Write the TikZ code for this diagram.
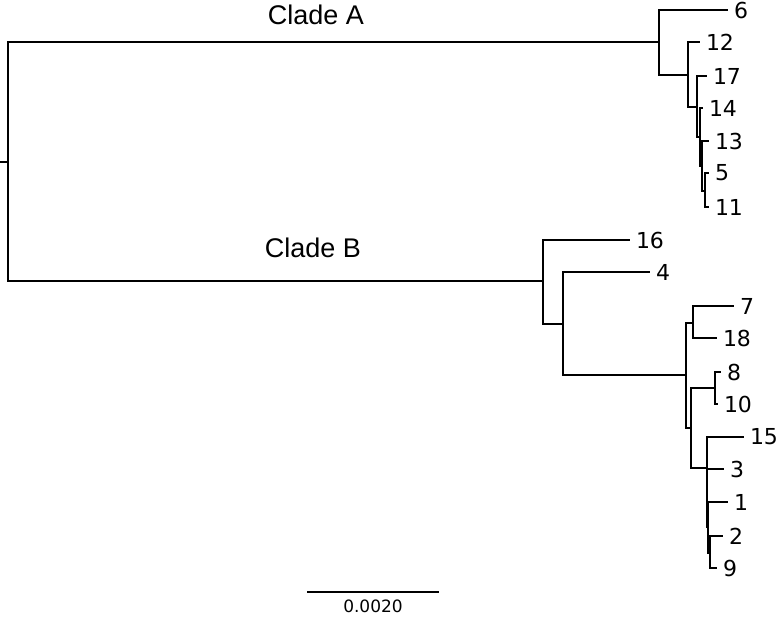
\documentclass[tikz,border=0pt]{standalone}
\usepackage{fontspec}
\setmainfont{DejaVu Sans}
\newfontfamily\cladefont{Liberation Sans}
\begin{document}
\begin{tikzpicture}[x=1pt,y=-1pt,line width=2pt]
        \useasboundingbox (0,0) rectangle (777,617);

        % inner nodes of the tree
        \coordinate (stem) at (0,162);
        \coordinate (root) at (8,162);
        \coordinate (a)  at (659,42);
        \coordinate (a1) at (688,75);
        \coordinate (a2) at (697,107);
        \coordinate (a3) at (700,137);
        \coordinate (a4) at (702,166);
        \coordinate (a5) at (705,191);
        \coordinate (b)  at (543,281);
        \coordinate (b1) at (563,324);
        \coordinate (c)  at (686,375);
        \coordinate (c1) at (693,323);
        \coordinate (d)  at (691,428);
        \coordinate (d1) at (715,388);
        \coordinate (e)  at (707,468);
        \coordinate (f)  at (708,527);
        \coordinate (g)  at (710,553);

        \begin{scope}[every node/.style={anchor=west, inner xsep=5pt, inner ysep=0pt, font=\fontsize{22}{22}\selectfont}]
          \node (6)  at (728,10)  {6};
          \node (12) at (700,42)  {12};
          \node (17) at (707,76)  {17};
          \node (14) at (703,108) {14};
          \node (13) at (709,141) {13};
          \node (5)  at (709,173) {5};
          \node (11) at (709,207) {11};
          \node (16) at (630,240) {16};
          \node (4)  at (650,272) {4};
          \node (7)  at (734,306) {7};
          \node (18) at (717,338) {18};
          \node (8)  at (721,372) {8};
          \node (10) at (718,404) {10};
          \node (15) at (744,437) {15};
          \node (3)  at (724,469) {3};
          \node (1)  at (728,502) {1};
          \node (2)  at (723,536) {2};
          \node (9)  at (717,568) {9};
        \end{scope}

        \node[font=\cladefont\fontsize{27}{27}\selectfont] (cladeA) at (316,15)  {Clade A};
        \node[font=\cladefont\fontsize{27}{27}\selectfont] (cladeB) at (313,248) {Clade B};

        \draw (stem) -- (root);
        \draw (root) |- (a);
        \draw (root) |- (b);

        \draw (a)  |- (6.west);
        \draw (a)  |- (a1);
        \draw (a1) |- (12.west);
        \draw (a1) |- (a2);
        \draw (a2) |- (17.west);
        \draw (a2) |- (a3);
        \draw (a3) |- (14.west);
        \draw (a3) |- (a4);
        \draw (a4) |- (13.west);
        \draw (a4) |- (a5);
        \draw (a5) |- (5.west);
        \draw (a5) |- (11.west);

        \draw (b)  |- (16.west);
        \draw (b)  |- (b1);
        \draw (b1) |- (4.west);
        \draw (b1) |- (c);
        \draw (c)  |- (c1);
        \draw (c)  |- (d);
        \draw (c1) |- (7.west);
        \draw (c1) |- (18.west);
        \draw (d)  |- (d1);
        \draw (d)  |- (e);
        \draw (d1) |- (8.west);
        \draw (d1) |- (10.west);
        \draw (e)  |- (15.west);
        \draw (e)  |- (3.west);
        \draw (e)  |- (f);
        \draw (f)  |- (1.west);
        \draw (f)  |- (g);
        \draw (g)  |- (2.west);
        \draw (g)  |- (9.west);

        % scale bar
        \coordinate (barL) at (307,592);
        \coordinate (barR) at (439,592);
        \draw (barL) -- (barR);
        \node[font=\fontsize{17}{17}\selectfont] (barlabel) at (373,606) {0.0020};

      \end{tikzpicture}
\end{document}
